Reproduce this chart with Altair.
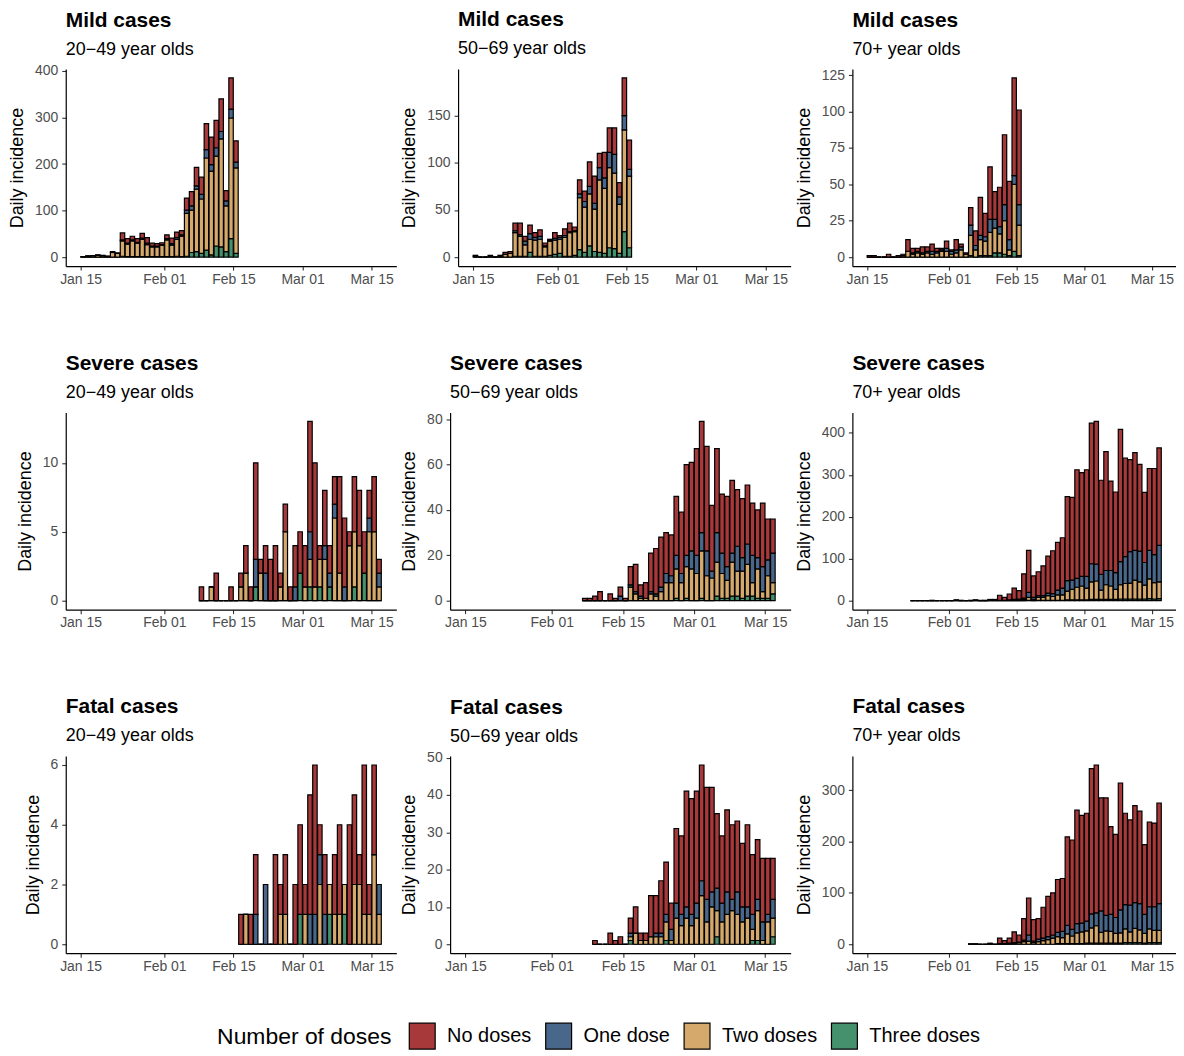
import altair as alt
import pandas as pd

DOSE_LABELS = ["No doses", "One dose", "Two doses", "Three doses"]
DOSE_COLORS = ["#A8393A", "#49678A", "#D4A96B", "#45916E"]

# ---------------- Mild cases ----------------
MILD_2049_START = "2022-01-15"
MILD_2049_THREE = [0,0,0,0,0,0,0,0, 2,1,1,1,1,1,1,1,1, 1,1,2,1, 2,10,12,8,15,5,24,22,12,40,8]
MILD_2049_TWO   = [1,2,3,4,3,2,10,8, 33,27,34,29,37,26,21,21,25, 36,25,36,44, 92,91,134,117,198,180,193,232,98,259,184]
MILD_2049_ONE   = [0,0,0,0,0,0,0,0, 2,2,2,2,3,3,2,2,1, 3,3,4,3, 7,9,7,10,18,14,18,16,11,19,12]
MILD_2049_NONE  = [0,1,0,1,1,0,2,1, 15,10,8,8,10,12,6,5,4, 8,12,12,9, 26,31,40,37,56,59,59,70,22,67,46]

MILD_5069_START = "2022-01-15"
MILD_5069_THREE = [0,0,0,0,0,0,0,0, 1,1,1,5,1,1,1,2,3,4,1,1,2, 8,5,12,6,5,4,10,9,4,27,10]
MILD_5069_TWO   = [1,0,0,1,0,1,3,4, 25,21,12,14,17,18,10,15,15,15,20,25,25, 55,48,55,45,77,69,85,80,52,108,76]
MILD_5069_ONE   = [0,0,0,0,0,0,0,0, 2,2,4,6,3,3,1,1,2,2,2,1,1, 4,6,8,6,13,11,16,20,8,15,7]
MILD_5069_NONE  = [1,0,0,1,0,1,2,2, 8,12,5,9,5,7,3,1,6,2,7,9,4, 15,11,26,29,15,27,26,28,15,40,31]

MILD_70_START = "2022-01-15"
MILD_70_THREE = [0,0,0,0,0,0,0,0, 0,0,0,0,0,0,0,0,0, 0,0,0,0, 1,0,1,1,1,3,3,2,1,4,1]
MILD_70_TWO   = [0,0,0,0,0,0,0,1, 4,2,3,2,3,2,3,4,4, 2,3,5,2, 14,5,11,10,16,17,13,23,4,46,21]
MILD_70_ONE   = [0,0,0,0,0,0,0,0, 0,1,1,1,1,2,1,1,2, 2,2,2,0, 7,3,3,3,9,6,5,11,7,6,14]
MILD_70_NONE  = [1,1,0,0,2,0,1,1, 8,3,2,4,3,5,2,1,5, 1,7,2,1, 12,10,26,16,36,19,27,48,40,67,65]

# ---------------- Severe cases ----------------
SEVERE_2049_START = "2022-02-08"
SEVERE_2049_THREE = [0,0,0,0,0,0,0,0,0,0,0,1,0,0,0,0,0,0,0,0,2,0,1,0,1,0,1,0,0,0,0,1,0,2,0,0,0]
SEVERE_2049_TWO   = [0,0,1,0,0,0,0,0,1,2,0,0,2,0,0,0,1,5,0,0,0,1,2,1,2,3,0,6,2,0,4,4,4,0,5,5,1]
SEVERE_2049_ONE   = [0,0,0,0,0,0,0,0,0,0,0,2,0,2,0,0,0,0,0,1,0,0,2,0,0,1,1,1,0,1,0,0,0,0,1,0,1]
SEVERE_2049_NONE  = [1,0,0,2,0,0,1,0,1,2,1,7,1,2,3,4,1,2,1,3,3,3,8,9,1,4,2,2,7,5,1,4,4,3,2,4,1]

SEVERE_5069_START = "2022-02-07"
SEVERE_5069_THREE = [0,0,0,0,0,0,0,0,0,0,0,0,0,0,0,0,0,0,1,0,1,0,
                     0,1,0,0,2,1,1,2,2,1,2,2,1,1,1,3]
SEVERE_5069_TWO   = [0,0,0,0,0,0,0,0,0,6,3,1,1,3,2,4,8,8,13,8,14,14,
                     12,21,11,10,15,11,8,15,11,12,14,6,13,3,10,5]
SEVERE_5069_ONE   = [0,0,0,0,0,0,0,2,0,1,1,1,0,1,1,2,4,3,6,4,5,8,
                     8,8,11,3,13,9,6,4,11,6,9,12,5,11,7,13]
SEVERE_5069_NONE  = [1,1,2,4,0,3,1,4,1,8,12,5,7,17,20,22,18,18,26,27,40,39,
                     47,49,46,29,37,26,31,32,25,26,26,23,21,28,18,15]

SEVERE_70_START = "2022-01-24"
SEVERE_70_THREE = [0,0,0,0,0,0,0,0, 0,0,0,0,0,0,0,0,0,0, 0,0,0,0,0,
                   0,1,0,1,1,1,1,1,1,2,2,2,2,
                   2,3,3,3,3,3,3,4,4,4,4,4,4,5,4,5]
SEVERE_70_TWO   = [0,0,0,0,0,0,0,0, 0,1,0,0,0,1,0,0,1,1, 1,1,1,2,2,
                   3,7,3,7,7,11,9,13,13,21,25,30,33,
                   28,42,44,22,35,32,24,34,37,38,45,41,33,47,39,40]
SEVERE_70_ONE   = [0,0,0,0,0,0,0,0, 0,0,0,0,0,0,0,0,0,0, 0,0,1,1,2,
                   3,12,5,4,4,6,7,11,16,25,22,21,23,
                   28,43,40,38,34,37,40,55,64,75,71,73,54,68,67,87]
SEVERE_70_NONE  = [0,0,0,0,1,0,0,0, 0,1,1,0,1,1,1,1,2,2, 12,7,14,27,20,
                   58,100,51,57,71,88,102,114,120,200,197,259,247,
                   254,335,340,224,283,213,192,315,235,219,233,207,167,195,205,232]

# ---------------- Fatal cases ----------------
FATAL_2049_START = "2022-02-16"
FATAL_2049_THREE = [0,0,0,0,0,0,0,0,0,0,0,0,1, 0,0,0,0,0,1,0,0,1,0,0,0,0,0,0,0]
FATAL_2049_TWO   = [0,1,0,0,0,0,0,0,1,1,0,0,0, 1,0,0,2,0,1,1,1,1,0,2,2,1,1,3,1]
FATAL_2049_ONE   = [0,0,0,1,0,2,0,0,0,0,0,0,0, 0,1,1,1,1,0,0,0,0,0,0,0,0,0,0,1]
FATAL_2049_NONE  = [1,0,1,2,0,0,0,3,1,2,0,2,3, 1,4,5,1,2,0,2,3,0,4,3,1,5,1,3,0]

FATAL_5069_START = "2022-02-09"
FATAL_5069_THREE = [0,0,0,0,0,0,0,1,0,0,0,0,0,0,1,0,0,0,0,0,
                    0,0,0,0,2,0,0,0,0,0,0,1,1,0,0,2]
FATAL_5069_TWO   = [0,0,0,0,0,0,0,1,3,1,1,2,2,2,5,1,7,5,7,5,
                    7,13,6,10,7,6,8,9,8,6,7,3,8,1,6,5]
FATAL_5069_ONE   = [0,0,0,0,0,0,0,1,0,0,0,0,1,1,2,3,4,3,3,3,
                    4,4,6,4,6,5,6,3,6,4,3,4,3,5,2,5]
FATAL_5069_NONE  = [1,0,0,3,1,2,0,4,7,2,2,11,10,14,14,7,20,21,31,31,
                    30,31,30,28,20,18,22,20,19,17,22,16,16,17,15,11]

FATAL_70_START = "2022-02-05"
FATAL_70_THREE = [0,0,0,0,0,0, 0,0,0,0,0,0,0,0,0,0,0,0,1,1,1,1,1,1,
                  2,2,2,2,2,2,2,2,3,3,3,3,2,3,3,3]
FATAL_70_TWO   = [0,0,0,0,1,0, 1,1,1,2,3,5,6,3,5,7,9,12,14,12,19,15,21,23,
                  24,30,34,21,24,23,19,20,27,21,28,25,19,27,24,24]
FATAL_70_ONE   = [0,0,0,0,0,0, 0,0,1,1,1,3,12,3,5,5,6,6,8,12,17,13,18,17,
                  19,27,25,42,30,33,31,45,47,52,50,51,37,43,46,52]
FATAL_70_NONE  = [1,1,0,0,1,0, 11,6,10,21,14,42,72,42,40,60,78,82,103,103,172,174,221,210,
                  210,283,288,220,229,171,162,247,178,166,189,180,136,165,163,196]

Y_TICKS = {
    "mild_2049": [0, 100, 200, 300, 400],
    "mild_5069": [0, 50, 100, 150],
    "mild_70": [0, 25, 50, 75, 100, 125],
    "severe_2049": [0, 5, 10],
    "severe_5069": [0, 20, 40, 60, 80],
    "severe_70": [0, 100, 200, 300, 400],
    "fatal_2049": [0, 2, 4, 6],
    "fatal_5069": [0, 10, 20, 30, 40, 50],
    "fatal_70": [0, 100, 200, 300],
}

X_TICKS = [alt.DateTime(year=2022, month=1, date=15), alt.DateTime(year=2022, month=2, date=1),
           alt.DateTime(year=2022, month=2, date=15), alt.DateTime(year=2022, month=3, date=1),
           alt.DateTime(year=2022, month=3, date=15)]
X_DOMAIN = [alt.DateTime(year=2022, month=1, date=12), alt.DateTime(year=2022, month=3, date=20)]

PLOT_HEIGHT = 198
LABEL_HALF = 7.5
TITLE_GAP = 11


def make_df(start, three, two, one, none):
    days = pd.date_range(start, periods=len(none), freq="D")
    frames = []
    for label, order, vals in [("Three doses", 0, three), ("Two doses", 1, two),
                               ("One dose", 2, one), ("No doses", 3, none)]:
        frames.append(pd.DataFrame({
            "day": days.strftime("%Y-%m-%d"),
            "start": (days + pd.Timedelta(hours=1.2)).strftime("%Y-%m-%dT%H:%M:%S"),
            "end": (days + pd.Timedelta(hours=22.8)).strftime("%Y-%m-%dT%H:%M:%S"),
            "dose": label,
            "order": order,
            "value": list(vals),
        }))
    return pd.concat(frames, ignore_index=True)


def panel(title, subtitle, start, three, two, one, none, yticks, width):
    df = make_df(start, three, two, one, none)
    ymax = max(a + b + c + d for a, b, c, d in zip(three, two, one, none))
    lo, hi = -0.05 * ymax, 1.05 * ymax
    # keep the title at the same distance above the plot, whatever the top tick label does
    dist = (hi - max(yticks)) / (hi - lo) * PLOT_HEIGHT
    overhang = max(0.0, LABEL_HALF - dist)
    return (
        alt.Chart(df)
        .transform_stack(stack="value", groupby=["day"], as_=["y0", "y1"],
                         sort=[alt.SortField(field="order", order="ascending")])
        .mark_bar(stroke="black", strokeWidth=1.2)
        .encode(
            x=alt.X("start:T", scale=alt.Scale(domain=X_DOMAIN),
                    axis=alt.Axis(values=X_TICKS, format="%b %d", title=None,
                                  labelFlush=False, labelOverlap=False)),
            x2="end:T",
            y=alt.Y("y0:Q", scale=alt.Scale(domain=[lo, hi], nice=False, zero=False),
                    axis=alt.Axis(values=yticks, title="Daily incidence")),
            y2="y1:Q",
            color=alt.Color("dose:N", scale=alt.Scale(domain=DOSE_LABELS, range=DOSE_COLORS),
                            title="Number of doses",
                            legend=alt.Legend(orient="none", legendX=152, legendY=957,
                                              direction="horizontal", titleOrient="left")),
        )
        .properties(width=width, height=PLOT_HEIGHT,
                    title=alt.TitleParams(text=title, subtitle=subtitle,
                                          offset=TITLE_GAP - overhang))
    )


row1 = alt.hconcat(
    panel("Mild cases", "20\u221249 year olds", MILD_2049_START, MILD_2049_THREE, MILD_2049_TWO,
          MILD_2049_ONE, MILD_2049_NONE, Y_TICKS["mild_2049"], 332),
    panel("Mild cases", "50\u221269 year olds", MILD_5069_START, MILD_5069_THREE, MILD_5069_TWO,
          MILD_5069_ONE, MILD_5069_NONE, Y_TICKS["mild_5069"], 334),
    panel("Mild cases", "70+ year olds", MILD_70_START, MILD_70_THREE, MILD_70_TWO,
          MILD_70_ONE, MILD_70_NONE, Y_TICKS["mild_70"], 325),
    spacing=4,
)
row2 = alt.hconcat(
    panel("Severe cases", "20\u221249 year olds", SEVERE_2049_START, SEVERE_2049_THREE, SEVERE_2049_TWO,
          SEVERE_2049_ONE, SEVERE_2049_NONE, Y_TICKS["severe_2049"], 332),
    panel("Severe cases", "50\u221269 year olds", SEVERE_5069_START, SEVERE_5069_THREE, SEVERE_5069_TWO,
          SEVERE_5069_ONE, SEVERE_5069_NONE, Y_TICKS["severe_5069"], 342),
    panel("Severe cases", "70+ year olds", SEVERE_70_START, SEVERE_70_THREE, SEVERE_70_TWO,
          SEVERE_70_ONE, SEVERE_70_NONE, Y_TICKS["severe_70"], 325),
    spacing=4,
)
row3 = alt.hconcat(
    panel("Fatal cases", "20\u221249 year olds", FATAL_2049_START, FATAL_2049_THREE, FATAL_2049_TWO,
          FATAL_2049_ONE, FATAL_2049_NONE, Y_TICKS["fatal_2049"], 332),
    panel("Fatal cases", "50\u221269 year olds", FATAL_5069_START, FATAL_5069_THREE, FATAL_5069_TWO,
          FATAL_5069_ONE, FATAL_5069_NONE, Y_TICKS["fatal_5069"], 342),
    panel("Fatal cases", "70+ year olds", FATAL_70_START, FATAL_70_THREE, FATAL_70_TWO,
          FATAL_70_ONE, FATAL_70_NONE, Y_TICKS["fatal_70"], 325),
    spacing=4,
)

chart = (
    alt.vconcat(row1, row2, row3, spacing=67)
    .properties(padding={"left": 0, "top": -1, "right": 0, "bottom": 0})
    .configure(font="Liberation Sans")
    .configure_view(strokeWidth=0)
    .configure_axis(
        labelFont="Liberation Sans", labelFontSize=14, labelColor="#4d4d4d",
        titleFont="Liberation Sans", titleFontSize=18, titleFontWeight="normal", titleColor="black",
        domainColor="black", domainWidth=1.2, tickColor="#333333", tickWidth=1.1, tickSize=4, grid=False,
    )
    .configure_axisX(labelPadding=2)
    .configure_axisY(labelPadding=4, titlePadding=8)
    .configure_title(
        anchor="start", frame="group", font="Liberation Sans", fontSize=21, fontWeight="bold",
        color="black", subtitleFont="Liberation Sans", subtitleFontSize=18, subtitleColor="black",
        subtitlePadding=10,
    )
    .configure_legend(
        titleFont="Liberation Sans", titleFontSize=23, titleFontWeight="normal", titleColor="black",
        labelFont="Liberation Sans", labelFontSize=20, labelColor="black",
        symbolType="square", symbolSize=676, symbolStrokeColor="black", symbolStrokeWidth=1.2,
        symbolOpacity=1, labelOffset=11, columnPadding=11, titlePadding=16,
    )
)

chart.save("out.html", embed_options={"renderer": "svg", "actions": False})
